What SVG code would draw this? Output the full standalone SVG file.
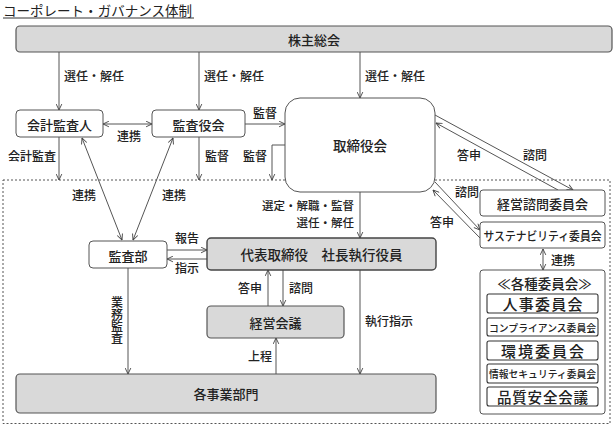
<svg xmlns="http://www.w3.org/2000/svg" width="613" height="425" viewBox="0 0 613 425">
<defs>
<marker id="ah" viewBox="0 0 10 10" refX="9.5" refY="5" markerWidth="7" markerHeight="7" markerUnits="userSpaceOnUse" orient="auto-start-reverse">
<path d="M1,1 L9.5,5 L1,9" fill="none" stroke="#444" stroke-width="1.3"/>
</marker>
<style>
text{font-family:"Noto Sans CJK JP","Noto Sans",sans-serif;fill:#222;font-weight:500;}
.lb{font-size:12px;}
.bt{font-size:13px;text-anchor:middle;dominant-baseline:central;}
.wb{fill:#fff;stroke:#555;stroke-width:1;}
.gb{fill:#d9d9d9;stroke:#555;stroke-width:1.2;}
.cb{fill:#fff;stroke:#333;stroke-width:1.1;}
.ln{fill:none;stroke:#555;stroke-width:1;}
.a1{marker-end:url(#ah);}
.a2{marker-start:url(#ah);marker-end:url(#ah);}
.ct{text-anchor:middle;}
.vt{writing-mode:vertical-rl;text-orientation:upright;glyph-orientation-vertical:0;}
</style>
</defs>
<text x="3" y="15.5" style="font-size:13.5px;font-weight:400" textLength="189">コーポレート・ガバナンス体制</text>
<line x1="3" y1="18" x2="194" y2="18" stroke="#333" stroke-width="1"/>
<rect x="3" y="180" width="607" height="243.5" fill="none" stroke="#555" stroke-width="1" stroke-dasharray="2,2"/>
<g id="connectors">
<line class="ln a1" x1="59" y1="52" x2="59" y2="110"/>
<line class="ln a1" x1="199" y1="52" x2="199" y2="110"/>
<line class="ln a1" x1="360" y1="52" x2="360" y2="98"/>
<line class="ln a2" x1="103" y1="124" x2="152" y2="124"/>
<line class="ln a1" x1="245" y1="124" x2="285" y2="124"/>
<line class="ln a1" x1="59" y1="137" x2="59" y2="180"/>
<line class="ln a1" x1="199" y1="137" x2="199" y2="180"/>
<polyline class="ln a1" points="285,145 272,145 272,180"/>
<line class="ln a2" x1="122" y1="240" x2="82" y2="138"/>
<line class="ln a2" x1="133" y1="240" x2="173" y2="138"/>
<line class="ln a1" x1="167" y1="250" x2="207" y2="250"/>
<line class="ln a1" x1="207" y1="259" x2="167" y2="259"/>
<line class="ln a1" x1="360" y1="192" x2="360" y2="238"/>
<line class="ln a1" x1="268" y1="306" x2="268" y2="270"/>
<line class="ln a1" x1="283" y1="270" x2="283" y2="306"/>
<line class="ln a1" x1="276" y1="374" x2="276" y2="338"/>
<line class="ln a1" x1="128" y1="268" x2="128" y2="374"/>
<line class="ln a1" x1="360" y1="270" x2="360" y2="374"/>
<line class="ln a1" x1="435" y1="115" x2="573" y2="190"/>
<line class="ln a1" x1="558" y1="190" x2="436" y2="123"/>
<line class="ln a1" x1="435" y1="182" x2="480" y2="230"/>
<line class="ln a1" x1="480" y1="238" x2="433" y2="190"/>
<line class="ln a2" x1="543" y1="249" x2="543" y2="270"/>
</g>
<g id="labels">
<text class="lb" x="64" y="81">選任・解任</text>
<text class="lb" x="204" y="81">選任・解任</text>
<text class="lb" x="365" y="81">選任・解任</text>
<text class="lb" x="117" y="141">連携</text>
<text class="lb" x="253" y="118">監督</text>
<text class="lb" x="8" y="161">会計監査</text>
<text class="lb" x="205" y="161">監督</text>
<text class="lb" x="243" y="161">監督</text>
<text class="lb" x="72" y="200">連携</text>
<text class="lb" x="162" y="200">連携</text>
<text class="lb" x="175" y="243">報告</text>
<text class="lb" x="175" y="273">指示</text>
<text class="lb" x="354" y="209.5" text-anchor="end" style="font-size:11.5px">選定・解職・監督</text>
<text class="lb" x="354" y="226.5" text-anchor="end" style="font-size:11.5px">選任・解任</text>
<text class="lb" x="238" y="293">答申</text>
<text class="lb" x="289" y="293">諮問</text>
<text class="lb" x="248" y="361">上程</text>
<text class="lb vt" x="117" y="296">業務監査</text>
<text class="lb" x="365" y="326">執行指示</text>
<text class="lb" x="457" y="160">答申</text>
<text class="lb" x="523" y="160">諮問</text>
<text class="lb" x="455" y="197">諮問</text>
<text class="lb" x="430" y="227">答申</text>
<text class="lb" x="551" y="265">連携</text>
</g>
<g id="shareholders">
<rect class="gb" x="16" y="26" width="596" height="26" rx="4"/>
<text class="bt" x="314" y="39">株主総会</text>
</g>
<g id="auditor">
<rect class="wb" x="16" y="110" width="87" height="27" rx="4"/>
<text class="bt" x="59.5" y="124">会計監査人</text>
</g>
<g id="audit-board">
<rect class="wb" x="152" y="110" width="93" height="27" rx="4"/>
<text class="bt" x="198.5" y="124">監査役会</text>
</g>
<g id="board">
<rect class="wb" x="285" y="98" width="150" height="94" rx="15"/>
<text class="bt" x="360" y="145" style="font-size:13.5px">取締役会</text>
</g>
<g id="audit-dept">
<rect class="wb" x="89" y="241" width="78" height="27" rx="4"/>
<text class="bt" x="128" y="255">監査部</text>
</g>
<g id="president">
<rect class="gb" x="207" y="238" width="229" height="32" rx="4" style="stroke:#444;stroke-width:1.4"/>
<text class="bt" x="321.5" y="254" style="font-size:13.5px">代表取締役　社長執行役員</text>
</g>
<g id="mgmt-meeting">
<rect class="gb" x="207" y="306" width="137" height="32" rx="4"/>
<text class="bt" x="275.5" y="322">経営会議</text>
</g>
<g id="divisions">
<rect class="gb" x="16" y="374" width="420" height="39" rx="4"/>
<text class="bt" x="226" y="393.5">各事業部門</text>
</g>
<g id="advisory">
<rect class="wb" x="480" y="190" width="125" height="26" rx="3"/>
<text class="bt" x="542.5" y="203">経営諮問委員会</text>
</g>
<g id="sustainability">
<rect class="wb" x="480" y="222" width="125" height="26" rx="3"/>
<text class="bt" x="542.5" y="235" style="font-size:12px" textLength="118" lengthAdjust="spacingAndGlyphs">サステナビリティ委員会</text>
</g>
<g id="committees">
<rect class="wb" x="480" y="270" width="125" height="144" rx="3"/>
<text class="ct" x="544.5" y="289" style="font-size:13.5px">≪各種委員会≫</text>
<rect class="cb" x="487" y="294" width="111" height="19" rx="2"/>
<text class="ct" x="542.5" y="309.5" style="font-size:15px" textLength="80">人事委員会</text>
<rect class="cb" x="487" y="318" width="111" height="18" rx="2"/>
<text class="ct" x="542.5" y="332" style="font-size:10px" textLength="107" lengthAdjust="spacingAndGlyphs">コンプライアンス委員会</text>
<rect class="cb" x="487" y="341" width="111" height="19" rx="2"/>
<text class="ct" x="542.5" y="356.5" style="font-size:15px" textLength="83">環境委員会</text>
<rect class="cb" x="487" y="364" width="111" height="19" rx="2"/>
<text class="ct" x="542.5" y="378" style="font-size:10px" textLength="107" lengthAdjust="spacingAndGlyphs">情報セキュリティ委員会</text>
<rect class="cb" x="487" y="387" width="111" height="19" rx="2"/>
<text class="ct" x="542.5" y="402.5" style="font-size:14.5px" textLength="91">品質安全会議</text>
</g>
</svg>
